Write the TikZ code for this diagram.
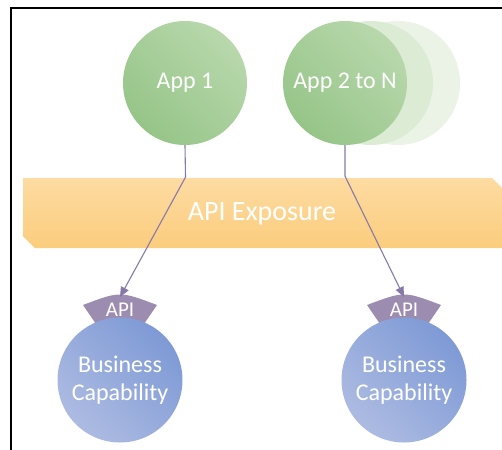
\documentclass[tikz,border=0pt]{standalone}
\usepackage{fontspec}
\setmainfont{Carlito}
\usetikzlibrary{arrows.meta}
\definecolor{greenD}{RGB}{150,197,136}
\definecolor{greenL}{RGB}{184,216,172}
\definecolor{ghostA}{RGB}{219,235,212}
\definecolor{ghostB}{RGB}{234,243,230}
\definecolor{blueD}{RGB}{126,154,213}
\definecolor{blueL}{RGB}{173,187,226}
\definecolor{bandT}{RGB}{253,219,162}
\definecolor{bandB}{RGB}{251,205,125}
\definecolor{tabC}{RGB}{156,141,176}
\definecolor{lineC}{RGB}{134,121,170}
\begin{document}
\begin{tikzpicture}[x=1pt,y=-1pt,
  appnode/.style={circle, minimum size=124pt, inner sep=0pt, top color=greenL, bottom color=greenD, shading angle=-45, text=white, font=\fontsize{24}{28}\selectfont},
  ghost/.style={circle, minimum size=124pt, inner sep=0pt, fill=#1},
  bcnode/.style={circle, minimum size=125pt, inner sep=0pt, top color=blueD, bottom color=blueL, shading angle=-45, text=white, align=center, font=\fontsize{24}{28}\selectfont},
  tabshape/.style={fill=tabC},
  tablabel/.style={text=white, inner sep=0pt, font=\fontsize{21}{24}\selectfont},
  bandlabel/.style={text=white, inner sep=0pt, font=\fontsize{28}{32}\selectfont},
  conn/.style={draw=lineC, line width=1.1pt, -{Triangle[length=10pt,width=8.5pt]}, fill=none}
]
\useasboundingbox (0,0) rectangle (502,449);
\clip (0,0) rectangle (502,449);
% frame
\draw[line width=2.6pt] (11,8) rectangle (530,470);
% band
\shade[top color=bandT, bottom color=bandB] (23,178) -- (492,178) -- (504,190) -- (504,248) -- (35,248) -- (23,236) -- cycle;
\node[bandlabel] (exposure) at (262,214) {API Exposure};
% apps
\node[ghost=ghostB] (ghost2) at (398,83) {};
\node[ghost=ghostA] (ghost1) at (371,83) {};
\node[appnode] (app1) at (185,83) {App 1};
\node[appnode] (app2) at (345,83) {App 2 to N};
% API tabs
\fill[tabshape] (83,305) .. controls (120,291) .. (157,305) -- (144,324) -- (96,324) -- cycle;
\fill[tabshape] (367,305) .. controls (404,291) .. (441,305) -- (428,324) -- (380,324) -- cycle;
% business capabilities
\node[bcnode] (bc1) at (120,380) {Business\\Capability};
\node[bcnode] (bc2) at (404,380) {Business\\Capability};
\node[tablabel] (api1) at (120,310) {API};
\node[tablabel] (api2) at (404,310) {API};
\coordinate (tab1top) at (120,297);
\coordinate (tab2top) at (404,297);
% connectors
\draw[conn] (app1.south) -- ++(0.5,32) -- (tab1top);
\draw[conn] (app2.south) -- ++(0,31) -- (tab2top);
\end{tikzpicture}
\end{document}
